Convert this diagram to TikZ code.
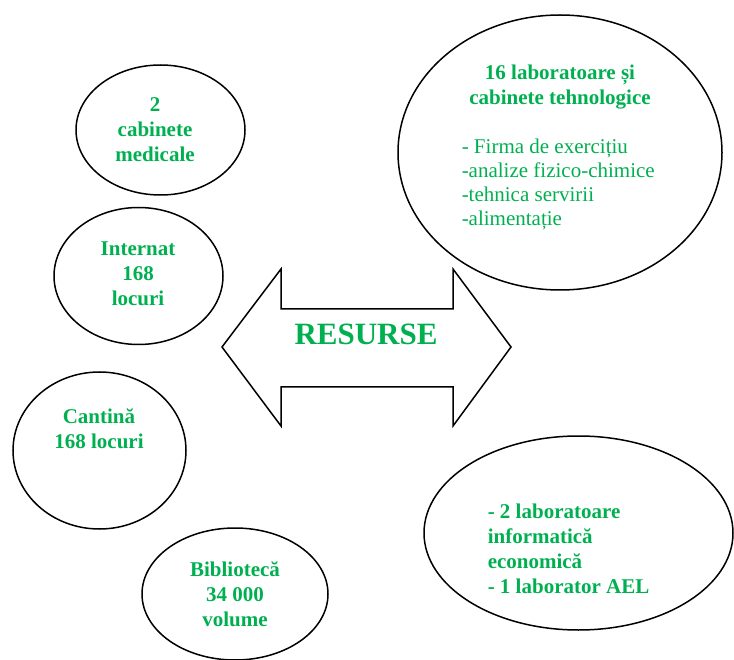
\documentclass[tikz,border=0pt]{standalone}
\usepackage{fontspec}
\setmainfont{Liberation Serif}
\usetikzlibrary{shapes.geometric}
\definecolor{cgreen}{HTML}{00B050}
\tikzset{
  every picture/.style={line width=1.5pt},
  res/.style={ellipse, draw=black, line width=1.5pt, inner sep=0pt},
  lbl/.style={text=cgreen, font=\fontsize{21}{25}\selectfont\bfseries, align=center, inner sep=0pt},
  lblleft/.style={lbl, align=left, anchor=west},
  plain/.style={text=cgreen, font=\fontsize{21}{24}\selectfont, align=left, anchor=west, inner sep=0pt},
  title/.style={text=cgreen, font=\fontsize{31}{36}\selectfont\bfseries, inner sep=0pt},
}

\begin{document}
\begin{tikzpicture}[x=1pt, y=-1pt]
  \useasboundingbox (0,0) rectangle (734,660);
  % resources on the left
  \node[res, minimum width=169, minimum height=130] (med) at (160.5,130) {};
  \node[lbl] (medtxt) at (155,130) {2\\cabinete\\medicale};
  \node[res, minimum width=169, minimum height=137] (intern) at (138.5,276) {};
  \node[lbl] (interntxt) at (138,274) {Internat\\168\\locuri};
  \node[res, minimum width=173, minimum height=157] (cant) at (99.5,450.5) {};
  \node[lbl] (canttxt) at (99,428.5) {Cantină\\168 locuri};
  \node[res, minimum width=186, minimum height=132] (bibl) at (235,594) {};
  \node[lbl] (bibltxt) at (235,594) {Bibliotecă\\34 000\\volume};
  % laboratories on the right
  \node[res, minimum width=324, minimum height=275] (labs) at (560,152.5) {};
  \node[lbl] (labstitle) at (560,87.5) {16 laboratoare și\\cabinete tehnologice};
  \node[plain] (labslist) at (461,184) {- Firma de exercițiu\\-analize fizico-chimice\\-tehnica servirii\\-alimentație};
  \node[res, minimum width=309, minimum height=194] (info) at (578.5,533) {};
  \node[lblleft] (infotxt) at (487,548.5) {- 2 laboratoare\\informatică\\economică\\- 1 laborator AEL};
  % central double arrow
  \draw[line join=miter] (222,347) -- (281,269) -- (281,309) -- (453,309) -- (453,269) -- (511,347)
    -- (453,426) -- (453,387) -- (281,387) -- (281,426) -- cycle;
  \node[title] (resurse) at (366,334) {RESURSE};
\end{tikzpicture}
\end{document}
